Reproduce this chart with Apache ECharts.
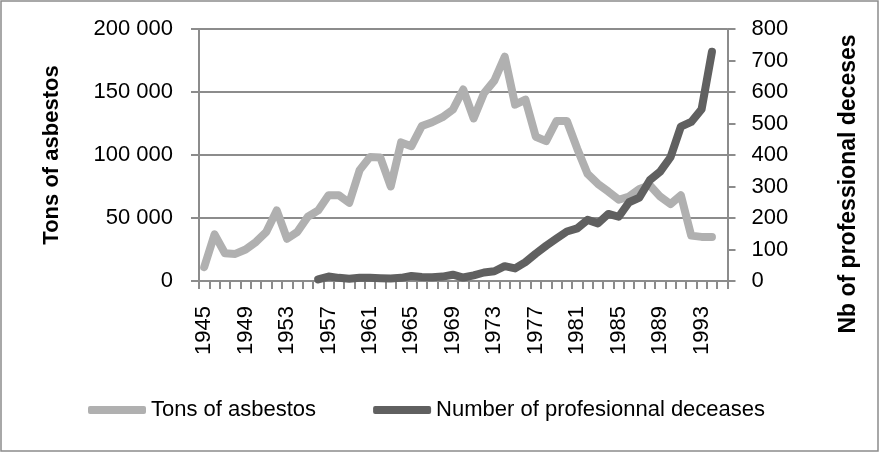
<!DOCTYPE html>
<html>
<head>
<meta charset="utf-8">
<script src="https://cdn.jsdelivr.net/npm/echarts@6/dist/echarts.min.js"></script>
<style>
  html, body { margin: 0; padding: 0; background: #fff; }
  #chart { width: 879px; height: 452px; }
</style>
</head>
<body>
<div id="chart"></div>
<script>
// x categories (1995 is on the axis but has no data)
let years = ['1945', '1946', '1947', '1948', '1949', '1950', '1951', '1952', '1953', '1954',
  '1955', '1956', '1957', '1958', '1959', '1960', '1961', '1962', '1963', '1964',
  '1965', '1966', '1967', '1968', '1969', '1970', '1971', '1972', '1973', '1974',
  '1975', '1976', '1977', '1978', '1979', '1980', '1981', '1982', '1983', '1984',
  '1985', '1986', '1987', '1988', '1989', '1990', '1991', '1992', '1993', '1994', '1995']

// tons of asbestos, 1945 - 1994
let tons = [11000, 37000, 22000, 21500, 25000, 31000, 39000, 56000, 33500, 39000,
  51000, 56000, 68000, 68000, 62000, 88000, 98500, 98000, 75000, 110000,
  107000, 123000, 126000, 130000, 136000, 152000, 129000, 149000, 159000, 178000,
  140000, 144000, 114500, 111000, 127000, 127000, 105000, 85000, 77000, 71000,
  64500, 67000, 73000, 76000, 67000, 61000, 68000, 36000, 35000, 35000, null]

// professional deceases, 1956 - 1994
let deceases = [null, null, null, null, null, null, null, null, null, null, null,
  5, 14, 10, 7, 10, 10, 9, 8, 10,
  16, 13, 12, 14, 20, 11, 18, 27, 31, 47,
  40, 60, 87, 112, 135, 157, 167, 194, 183, 213,
  204, 250, 265, 320, 347, 393, 490, 505, 545, 728, null]

let leftTicks = [0, 50000, 100000, 150000, 200000]
let rightTicks = [0, 100, 200, 300, 400, 500, 600, 700, 800]

let font = "'Liberation Sans', Arial, sans-serif"
let gridGray = '#8c8c8c'

let myChart = echarts.init(document.getElementById('chart'))

let option = {
  animation: false,
  backgroundColor: '#fff',
  textStyle: { fontFamily: font },
  grid: { left: 199, right: 151.5, top: 29, bottom: 171, containLabel: false },
  legend: {
    left: 88,
    top: 399,
    padding: 0,
    itemWidth: 58,
    itemHeight: 8,
    itemGap: 57,
    textStyle: { fontSize: 22, color: '#000', fontFamily: font },
    data: [
      { name: 'Tons of asbestos', icon: 'roundRect' },
      { name: 'Number of profesionnal deceases', icon: 'roundRect' }
    ]
  },
  xAxis: {
    type: 'category',
    data: years,
    boundaryGap: true,
    axisLine: { lineStyle: { color: gridGray, width: 2 } },
    axisTick: { show: true, interval: 0, length: 8, lineStyle: { color: gridGray, width: 2 } },
    axisLabel: { interval: 3, rotate: 90, margin: 25, fontSize: 22, color: '#000', fontFamily: font }
  },
  yAxis: [
    {
      type: 'value',
      min: leftTicks[0],
      max: leftTicks[leftTicks.length - 1],
      interval: 50000,
      name: 'Tons of asbestos',
      nameLocation: 'middle',
      nameGap: 136,
      nameTextStyle: { fontSize: 22, fontWeight: 'bold', color: '#000', fontFamily: font },
      axisLine: { show: true, lineStyle: { color: gridGray, width: 2 } },
      axisTick: { show: true, length: 8, lineStyle: { color: gridGray, width: 2 } },
      axisLabel: {
        margin: 26,
        fontSize: 22,
        color: '#000',
        fontFamily: font,
        formatter(v) {
          return String(v).replace(/\B(?=(\d{3})+(?!\d))/g, ' ')
        }
      },
      splitLine: { lineStyle: { color: gridGray, width: 2 } }
    },
    {
      type: 'value',
      position: 'right',
      min: rightTicks[0],
      max: rightTicks[rightTicks.length - 1],
      interval: 100,
      axisLine: { show: true, lineStyle: { color: gridGray, width: 2 } },
      axisTick: { show: true, length: 8, lineStyle: { color: gridGray, width: 2 } },
      axisLabel: { margin: 24, fontSize: 22, color: '#000', fontFamily: font },
      splitLine: { show: false }
    }
  ],
  series: [
    {
      name: 'Tons of asbestos',
      type: 'line',
      yAxisIndex: 0,
      data: tons,
      symbol: 'none',
      color: '#b0b0b0',
      lineStyle: { width: 8, color: '#b0b0b0', cap: 'round', join: 'round' }
    },
    {
      name: 'Number of profesionnal deceases',
      type: 'line',
      yAxisIndex: 1,
      data: deceases,
      symbol: 'none',
      color: '#606060',
      lineStyle: { width: 8, color: '#606060', cap: 'round', join: 'round' }
    }
  ],
  graphic: [
    {
      type: 'rect',
      shape: { x: 1, y: 1, width: 877, height: 450 },
      style: { fill: 'none', stroke: '#8c8c8c', lineWidth: 1.5 },
      silent: true
    },
    {
      type: 'text',
      x: 849,
      y: 184,
      rotation: Math.PI / 2,
      style: {
        text: 'Nb of professional deceses',
        fontSize: 23,
        fontWeight: 'bold',
        fontFamily: font,
        fill: '#000',
        align: 'center',
        verticalAlign: 'middle'
      }
    }
  ]
}

myChart.setOption(option)
</script>
</body>
</html>
